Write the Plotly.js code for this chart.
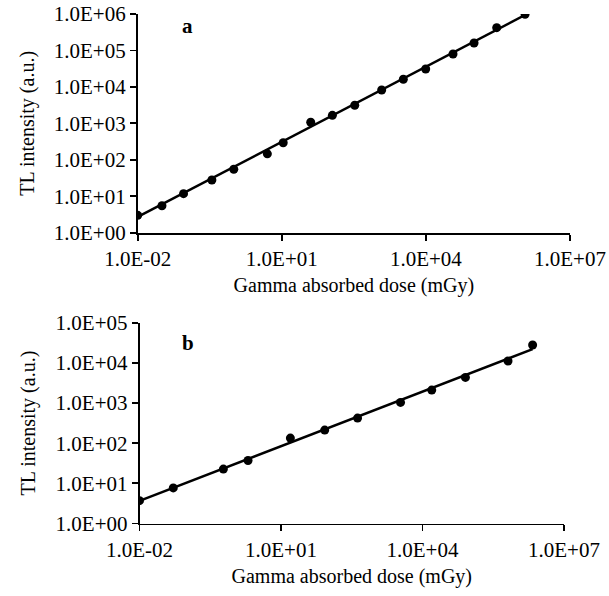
<!DOCTYPE html>
<html>
<head>
<meta charset="utf-8">
<script src="https://cdn.plot.ly/plotly-3.0.1.min.js"></script>
<style>html,body{margin:0;padding:0;background:#fff;}#chart{width:609px;height:596px;}</style>
</head>
<body>
<div id="chart"></div>
<script>
// Panel a: data
const doseA = [0.01, 0.032, 0.09, 0.35, 1.0, 5.0, 10.7, 40, 113, 330, 1200, 3390, 9900, 36700, 100500, 298000, 1.16e6];
const tlA   = [3.0, 5.5, 11.8, 28, 55, 146, 294, 1070, 1660, 3130, 8200, 16200, 31000, 80000, 160000, 421000, 980000];
// Panel a: straight fitted line, endpoints
const fitDoseA = [0.01, 1.16e6];
const fitTlA   = [2.7, 9.4e5];

// Panel b: data
const doseB = [0.01, 0.052, 0.6, 2.0, 15.8, 84.5, 420, 3420, 15700, 81300, 650000, 2.16e6];
const tlB   = [3.7, 7.7, 22.6, 37, 134, 212, 421, 1035, 2100, 4340, 11100, 27800];
// Panel b: straight fitted line, endpoints
const fitDoseB = [0.01, 2.16e6];
const fitTlB   = [3.65, 22000];

// Tick labels
const xTickVals = [0.01, 10, 10000, 1e7];
const xTickText = ["1.0E-02", "1.0E+01", "1.0E+04", "1.0E+07"];
const yTickValsA = [1, 10, 100, 1000, 1e4, 1e5, 1e6];
const yTickTextA = ["1.0E+00", "1.0E+01", "1.0E+02", "1.0E+03", "1.0E+04", "1.0E+05", "1.0E+06"];
const yTickValsB = [1, 10, 100, 1000, 1e4, 1e5];
const yTickTextB = ["1.0E+00", "1.0E+01", "1.0E+02", "1.0E+03", "1.0E+04", "1.0E+05"];

const xTitle = "Gamma absorbed dose (mGy)";
const yTitle = "TL intensity (a.u.)";

const FONT = "Liberation Serif, Times New Roman, serif";
const W = 609, H = 596;
const px = v => v / W;
const py = v => 1 - v / H;

const lineStyle = {color: "#000", width: 2.5};
const markerStyle = {color: "#000", size: 9, symbol: "circle"};

const traces = [
  {x: fitDoseA, y: fitTlA, xaxis: "x", yaxis: "y", mode: "lines", line: lineStyle, showlegend: false, hoverinfo: "skip"},
  {x: doseA, y: tlA, xaxis: "x", yaxis: "y", mode: "markers", marker: markerStyle, showlegend: false},
  {x: fitDoseB, y: fitTlB, xaxis: "x2", yaxis: "y2", mode: "lines", line: lineStyle, showlegend: false, hoverinfo: "skip"},
  {x: doseB, y: tlB, xaxis: "x2", yaxis: "y2", mode: "markers", marker: markerStyle, showlegend: false}
];

function xAxis(domain, anchor) {
  return {
    type: "log", range: [-2, 7], domain: domain, anchor: anchor,
    tickmode: "array", tickvals: xTickVals, ticktext: xTickText,
    ticks: "outside", ticklen: 6, tickwidth: 1.8, tickcolor: "#000",
    showline: true, linecolor: "#000", linewidth: 1.8, mirror: false,
    showgrid: false, zeroline: false,
    tickfont: {family: FONT, size: 21, color: "#000"},
    title: {text: xTitle, font: {family: FONT, size: 20, color: "#000"}, standoff: 8},
    automargin: false
  };
}
function yAxis(domain, anchor, range, vals, text) {
  return {
    type: "log", range: range, domain: domain, anchor: anchor,
    tickmode: "array", tickvals: vals, ticktext: text,
    ticks: "outside", ticklen: 6, tickwidth: 1.8, tickcolor: "#000",
    showline: true, linecolor: "#000", linewidth: 1.8, mirror: false,
    showgrid: false, zeroline: false,
    tickfont: {family: FONT, size: 21, color: "#000"},
    title: {text: yTitle, font: {family: FONT, size: 20, color: "#000"}, standoff: 14},
    automargin: false
  };
}

const layout = {
  width: W, height: H,
  margin: {l: 0, r: 0, t: 0, b: 0},
  paper_bgcolor: "#fff", plot_bgcolor: "#fff",
  font: {family: FONT, color: "#000"},
  showlegend: false,
  xaxis: xAxis([px(137.7), px(570)], "y"),
  yaxis: yAxis([py(232.7), py(14)], "x", [0, 6], yTickValsA, yTickTextA),
  xaxis2: xAxis([px(139.5), px(564)], "y2"),
  yaxis2: yAxis([py(523.5), py(322.7)], "x2", [0, 5], yTickValsB, yTickTextB),
  annotations: [
    {text: "<b>a</b>", xref: "paper", yref: "paper", x: px(187.5), y: py(26), xanchor: "center", yanchor: "middle", showarrow: false, font: {family: FONT, size: 21, color: "#000"}},
    {text: "<b>b</b>", xref: "paper", yref: "paper", x: px(187.5), y: py(343), xanchor: "center", yanchor: "middle", showarrow: false, font: {family: FONT, size: 21, color: "#000"}}
  ]
};

Plotly.newPlot("chart", traces, layout, {displayModeBar: false, staticPlot: true});
</script>
</body>
</html>
